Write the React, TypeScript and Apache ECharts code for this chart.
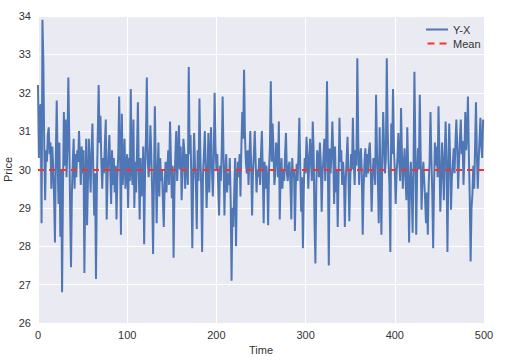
import React, { useEffect, useRef } from "react";
import * as echarts from "echarts";

// Series "Y-X": price at time steps 0..499
const priceValues: number[] = [
  32.2, 30.3, 31.6, 31.7, 28.6, 33.9, 32.8, 30.6, 29.2, 30.5,
  30.2, 30.9, 31.1, 30.4, 30.7, 29.5, 30.6, 30.1, 29.3, 28.1,
  30.4, 31.8, 30.2, 29.1, 30.7, 28.25, 30.0, 26.8, 29.5, 31.5,
  30.1, 31.3, 29.8, 30.6, 32.4, 30.9, 29.0, 27.45, 29.4, 30.2,
  30.8, 29.5, 30.4, 29.8, 30.5, 30.2, 31.0, 30.3, 29.6, 30.6,
  29.9, 30.5, 27.3, 29.6, 30.8, 28.55, 29.7, 30.8, 30.1, 29.4,
  30.5, 31.2, 30.0, 28.8, 29.9, 27.15, 29.6, 30.9, 32.2, 30.7,
  31.4, 30.2, 29.5, 30.3, 29.9, 30.7, 31.3, 28.7, 29.8, 30.4,
  30.9, 30.0, 29.1, 30.5, 29.6, 30.3, 29.4, 30.1, 28.7, 29.8,
  30.4, 31.9, 30.3, 28.3, 31.45, 29.6, 30.2, 30.8, 29.5, 30.1,
  30.4, 29.0, 30.3, 29.7, 32.1, 30.0, 29.6, 31.3, 29.0, 30.2,
  29.4, 30.5, 31.75, 29.9, 28.7, 30.3, 29.3, 29.7, 30.6, 28.05,
  29.9, 30.8, 32.4, 30.3, 29.8, 30.2, 31.15, 30.4, 29.4, 27.8,
  29.7, 31.65, 30.1, 28.6, 29.9, 30.7, 29.3, 30.3, 29.7, 30.0,
  29.2, 28.5, 29.6, 30.2, 29.4, 30.0, 30.5, 29.6, 31.25, 30.3,
  29.25, 30.1, 27.7, 29.5, 30.4, 31.0, 29.7, 30.3, 31.15, 30.0,
  30.6, 29.2, 29.9, 30.8, 30.5, 29.5, 30.4, 30.2, 29.6, 32.67,
  30.4, 30.9, 29.6, 27.95, 29.8, 30.95, 30.1, 29.6, 28.45, 30.5,
  29.7, 31.85, 30.4, 29.5, 27.85, 29.9, 30.4, 31.0, 30.1, 29.0,
  29.8, 30.95, 29.4, 30.3, 31.1, 30.0, 29.3, 30.2, 32.0, 30.6,
  30.0, 30.4, 29.6, 28.8, 30.1, 29.7, 30.5, 31.9, 30.3, 28.8,
  29.9, 30.4, 29.4, 29.9, 29.6, 30.3, 29.2, 27.1, 29.0, 28.5,
  29.4, 30.3, 28.0, 29.7, 30.2, 29.8, 30.4, 29.3, 30.6, 31.5,
  30.8, 32.6, 30.9, 30.2, 29.9, 30.5, 29.6, 30.3, 31.0, 30.1,
  28.8, 29.9, 30.4, 31.0, 30.2, 29.4, 30.0, 29.8, 30.3, 29.6,
  30.4, 31.0, 29.9, 28.6, 30.2, 29.5, 30.1, 29.8, 28.55, 30.0,
  30.6, 32.3, 30.2, 31.2, 30.5, 29.6, 29.9, 30.7, 30.55, 29.8,
  31.25, 28.7, 29.9, 30.3, 29.5, 30.0, 29.7, 30.4, 30.95, 29.9,
  29.7, 30.1, 30.2, 29.6, 28.7, 30.3, 29.8, 30.0, 28.4, 29.6,
  30.15, 29.7, 30.4, 31.35, 30.0, 28.9, 29.8, 27.95, 29.5, 30.3,
  29.9, 30.85, 30.4, 29.5, 30.1, 30.8, 30.3, 29.7, 31.25, 30.5,
  28.6, 27.55, 29.6, 30.5, 30.3, 29.8, 30.7, 30.2, 28.9, 29.9,
  30.3, 30.8, 29.7, 30.5, 32.3, 30.0, 27.5, 30.55, 29.9, 30.4,
  31.25, 30.4, 29.1, 30.6, 29.4, 30.0, 28.5, 29.9, 31.35, 30.2,
  30.5, 29.6, 30.2, 29.8, 28.5, 29.7, 30.3, 30.85, 29.9, 28.65,
  29.7, 30.4, 30.0, 31.35, 30.2, 29.6, 30.5, 30.1, 32.9, 30.8,
  29.6, 30.3, 30.55, 29.9, 28.3, 29.5, 30.2, 30.55, 29.8, 30.4,
  29.9, 30.5, 30.7, 30.0, 28.9, 29.7, 30.3, 30.1, 29.6, 31.95,
  30.5, 29.8, 28.6, 31.1, 29.7, 28.3, 30.4, 31.5, 30.6, 29.9,
  30.3, 32.9, 31.0, 30.2, 29.6, 27.85, 31.2, 30.4, 32.1, 30.6,
  30.0, 29.1, 29.9, 30.3, 30.95, 30.2, 29.7, 31.6, 30.4, 29.5,
  30.1, 30.55, 29.8, 29.2, 31.1, 30.0, 28.1, 29.6, 30.2, 29.4,
  28.35, 30.1, 32.55, 30.6, 28.3, 29.9, 30.55, 30.0, 31.95, 30.4,
  28.95, 29.8, 30.2, 29.7, 29.2, 28.6, 29.4, 28.3, 29.6, 30.2,
  31.5, 30.3, 29.4, 27.95, 29.6, 30.7, 30.1, 30.6, 29.8, 31.65,
  30.4, 28.9, 29.7, 30.7, 30.1, 29.2, 30.4, 31.25, 30.2, 27.85,
  29.9, 31.2, 30.3, 28.95, 29.8, 30.1, 30.55, 29.9, 30.7, 31.3,
  30.6, 29.5, 30.2, 30.8, 31.3, 30.4, 30.75, 29.6, 30.3, 31.5,
  30.5, 30.9, 31.9, 30.4, 29.3, 27.6, 29.0, 29.35, 30.1, 29.5,
  30.6, 31.75, 30.4, 29.5, 30.2, 30.8, 31.35, 30.6, 30.3, 31.3,
];

// Mean level shown by the dashed line
const meanValue = 29.99;
const meanSpan: number[] = [0, 500];

const xTicks = { min: 0, max: 500, interval: 100 };
const yTicks = { min: 26, max: 34, interval: 1 };

const seriesNames = ["Y-X", "Mean"];

export default function App() {
  const ref = useRef<HTMLDivElement>(null);

  useEffect(() => {
    if (!ref.current) return;
    const chart = echarts.init(ref.current, null, { renderer: "svg" });
    const font = "'Liberation Sans', Arial, sans-serif";
    const textColor = "#333333";
    const blue = "#5077B5";
    const red = "#F0362A";
    chart.setOption({
      animation: false,
      textStyle: { fontFamily: font },
      grid: {
        left: 38,
        top: 16,
        width: 446,
        height: 307,
        show: true,
        backgroundColor: "#EAEAF2",
        borderWidth: 0,
        containLabel: false,
        outerBoundsMode: "none",
      },
      legend: {
        orient: "vertical",
        left: 421,
        top: 19,
        itemWidth: 22,
        itemHeight: 2,
        itemGap: 3,
        textStyle: { fontSize: 11, color: textColor, fontFamily: font },
        data: [
          { name: seriesNames[0], icon: "rect", itemStyle: { color: blue } },
          {
            name: seriesNames[1],
            icon: "path://M0,0h7v2h-7zM12,0h7v2h-7z",
            itemStyle: { color: red },
          },
        ],
      },
      xAxis: {
        type: "value",
        min: xTicks.min,
        max: xTicks.max,
        interval: xTicks.interval,
        name: "Time",
        nameLocation: "middle",
        nameGap: 21,
        nameTextStyle: { fontSize: 11, color: textColor, fontFamily: font },
        axisLine: { show: false },
        axisTick: { show: false },
        axisLabel: { fontSize: 11, color: textColor, margin: 6, fontFamily: font },
        splitLine: { show: true, lineStyle: { color: "#FFFFFF", width: 1 } },
      },
      yAxis: {
        type: "value",
        min: yTicks.min,
        max: yTicks.max,
        interval: yTicks.interval,
        name: "Price",
        nameLocation: "middle",
        nameGap: 25,
        nameMoveOverlap: false,
        nameTextStyle: { fontSize: 11, color: textColor, fontFamily: font },
        axisLine: { show: false },
        axisTick: { show: false },
        axisLabel: { fontSize: 11, color: textColor, margin: 7, fontFamily: font },
        splitLine: { show: true, lineStyle: { color: "#FFFFFF", width: 1 } },
      },
      series: [
        {
          name: seriesNames[0],
          type: "line",
          symbol: "none",
          data: priceValues.map((v, i) => [i, v]),
          lineStyle: { color: blue, width: 2 },
          itemStyle: { color: blue },
          z: 2,
        },
        {
          name: seriesNames[1],
          type: "line",
          symbol: "none",
          data: meanSpan.map((x) => [x, meanValue]),
          lineStyle: { color: red, width: 2, type: [6, 5] },
          itemStyle: { color: red },
          z: 3,
        },
      ],
    });
    return () => chart.dispose();
  }, []);

  return (
    <div
      ref={ref}
      style={{ position: "fixed", left: 0, top: 0, width: 520, height: 364, background: "#FFFFFF" }}
    />
  );
}
